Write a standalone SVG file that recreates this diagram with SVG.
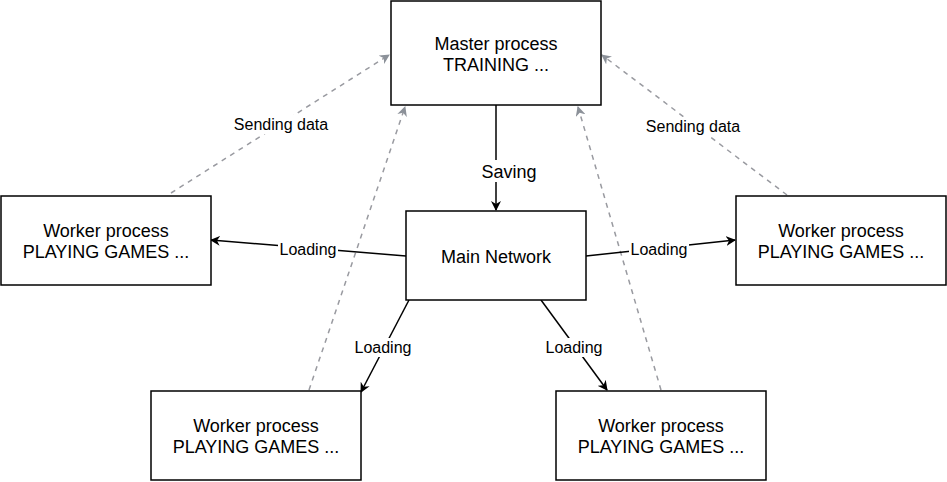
<svg xmlns="http://www.w3.org/2000/svg" width="947" height="482" viewBox="0 0 947 482">
<style>
.box{fill:#fff;stroke:#000;stroke-width:1.5}
.nt{font-family:"Liberation Sans",Arial,sans-serif;font-size:18px;fill:#000;text-anchor:middle}
.lt{font-family:"Liberation Sans",Arial,sans-serif;font-size:16px;fill:#000;text-anchor:middle}
.big{font-size:18px}
.solid{fill:none;stroke:#000;stroke-width:1.5}
.dash{fill:none;stroke:#999aa0;stroke-width:1.5;stroke-dasharray:5 5}
.lbg{fill:#fff}
</style>
<defs>
<marker id="ab" viewBox="0 0 10 10" refX="9" refY="5" markerWidth="10" markerHeight="10" markerUnits="userSpaceOnUse" orient="auto">
<path d="M0,0 L10,5 L0,10 L3,5 z" fill="#000"/>
</marker>
<marker id="ag" viewBox="0 0 10 10" refX="9" refY="5" markerWidth="10" markerHeight="10" markerUnits="userSpaceOnUse" orient="auto">
<path d="M0,0 L10,5 L0,10 L3,5 z" fill="#8c9199"/>
</marker>
</defs>
<g id="connectors">
<line class="dash" x1="171" y1="193" x2="389" y2="55" marker-end="url(#ag)"/>
<line class="dash" x1="309" y1="390" x2="405" y2="107" marker-end="url(#ag)"/>
<line class="dash" x1="661" y1="390" x2="578" y2="107" marker-end="url(#ag)"/>
<line class="dash" x1="787" y1="195" x2="602" y2="55" marker-end="url(#ag)"/>
<line class="solid" x1="496" y1="105" x2="496" y2="210" marker-end="url(#ab)"/>
<line class="solid" x1="406" y1="256" x2="211" y2="240" marker-end="url(#ab)"/>
<line class="solid" x1="586" y1="256" x2="735" y2="240" marker-end="url(#ab)"/>
<line class="solid" x1="409" y1="300" x2="361" y2="392" marker-end="url(#ab)"/>
<line class="solid" x1="541" y1="300" x2="607" y2="390" marker-end="url(#ab)"/>
<rect class="lbg" x="231" y="115" width="101" height="19"/>
<text class="lt" x="281" y="130">Sending data</text>
<rect class="lbg" x="643" y="117" width="101" height="19"/>
<text class="lt" x="693" y="131.5">Sending data</text>
<rect class="lbg" x="479" y="160" width="60" height="22"/>
<text class="lt big" x="509" y="177.5">Saving</text>
<rect class="lbg" x="278" y="240" width="60" height="19"/>
<text class="lt" x="308" y="254.5">Loading</text>
<rect class="lbg" x="629" y="240" width="60" height="19"/>
<text class="lt" x="659" y="254.5">Loading</text>
<rect class="lbg" x="353" y="338" width="60" height="19"/>
<text class="lt" x="383" y="352.5">Loading</text>
<rect class="lbg" x="544" y="338" width="60" height="19"/>
<text class="lt" x="574" y="352.5">Loading</text>
</g>
<g id="master">
<rect class="box" x="391" y="1" width="210" height="104"/>
<text class="nt" x="496" y="49.5">Master process</text>
<text class="nt" x="496" y="70.5">TRAINING ...</text>
</g>
<g id="main">
<rect class="box" x="406" y="211" width="180" height="89"/>
<text class="nt" x="496" y="262.5">Main Network</text>
</g>
<g id="workerLeft">
<rect class="box" x="1" y="196" width="210" height="89"/>
<text class="nt" x="106" y="236.5">Worker process</text>
<text class="nt" x="106" y="257.5">PLAYING GAMES ...</text>
</g>
<g id="workerRight">
<rect class="box" x="736" y="196" width="210" height="89"/>
<text class="nt" x="841" y="236.5">Worker process</text>
<text class="nt" x="841" y="257.5">PLAYING GAMES ...</text>
</g>
<g id="workerBottomLeft">
<rect class="box" x="151" y="391" width="210" height="89"/>
<text class="nt" x="256" y="431.5">Worker process</text>
<text class="nt" x="256" y="452.5">PLAYING GAMES ...</text>
</g>
<g id="workerBottomRight">
<rect class="box" x="556" y="391" width="210" height="89"/>
<text class="nt" x="661" y="431.5">Worker process</text>
<text class="nt" x="661" y="452.5">PLAYING GAMES ...</text>
</g>
</svg>
